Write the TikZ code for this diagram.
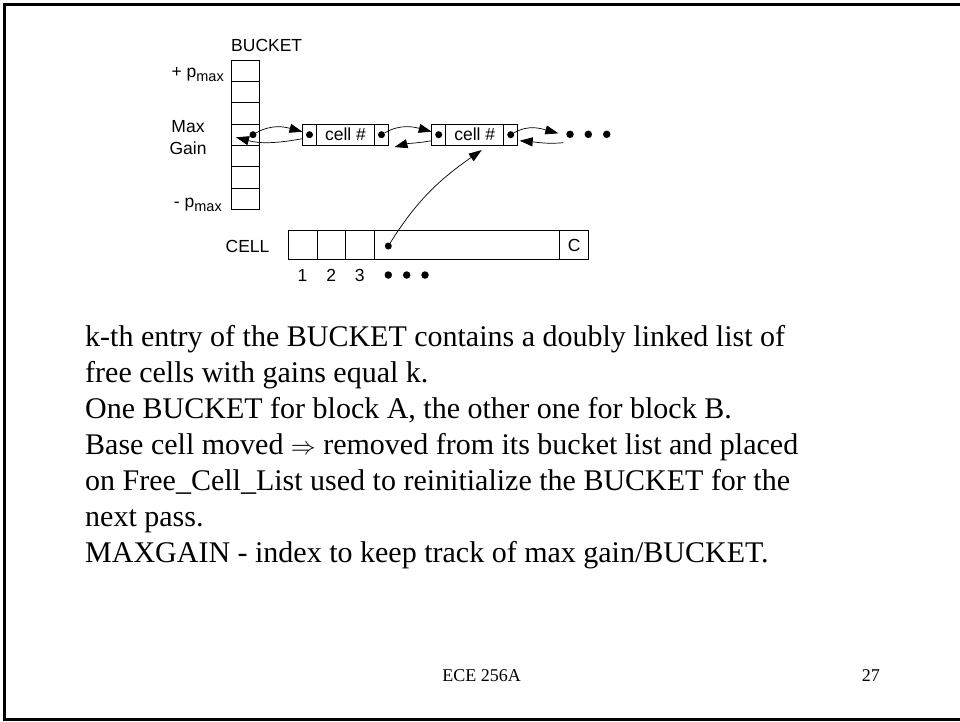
\documentclass[tikz,border=0pt]{standalone}
\usepackage{fontspec}
\setmainfont{Liberation Serif}
\newfontfamily\diagfont{Liberation Sans}
\usetikzlibrary{positioning,arrows.meta}

\tikzset{
  box/.style={draw, line width=0.8pt, inner sep=0pt, outer sep=0pt},
  ptrbox/.style={box, minimum width=14pt, minimum height=20.7pt},
  cellbox/.style={box, minimum width=58pt, minimum height=20.7pt, font=\diagfont\fontsize{17.5}{20}\selectfont},
  slot/.style={box, minimum width=28.6pt, minimum height=28.6pt, font=\diagfont\fontsize{17.5}{20}\selectfont},
  ptrdot/.style={circle, fill, inner sep=0pt, minimum size=7pt},
  moredot/.style={circle, fill, inner sep=0pt, minimum size=7.5pt},
  link/.style={-{Triangle[length=13pt,width=9pt]}, line width=0.7pt},
  lab/.style={font=\diagfont\fontsize{17.5}{22}\selectfont, inner sep=0pt},
  bodyline/.style={font=\fontsize{30}{36}\selectfont, anchor=base west, inner sep=0pt},
  foot/.style={font=\fontsize{18}{20}\selectfont, anchor=base, inner sep=0pt},
}
\newcommand{\pmaxlab}[1]{#1 p\raisebox{-4pt}{\fontsize{14.5}{14.5}\selectfont max}}

\begin{document}
\begin{tikzpicture}[x=1pt,y=1pt]
  \useasboundingbox (0,0) rectangle (960,-721);
  \fill[white] (0,0) rectangle (960,-721);
  % slide frame
  \draw[line width=3pt] (965,-4) -- (4.5,-4) -- (4.5,-719) -- (965,-719);

  % bucket array
  \foreach \i in {1,...,7}
    \node[box, minimum width=28.3pt, minimum height=21.33pt] (b\i) at (245.2,{-60-21.33*(\i-0.5)}) {};
  \node[lab, anchor=base west] (bucketlab) at (231,-51) {BUCKET};
  \node[lab, anchor=base east] (plus) at (224,-77) {\pmaxlab{+}};
  \node[lab, align=center] (maxgain) at (188,-138) {Max\\Gain};
  \node[lab, anchor=base east] (minus) at (222,-207) {\pmaxlab{-}};
  \node[ptrdot] (bd) at (253,-134.7) {};

  % free cell list
  \node[ptrbox] (c1l) at (309.5,-134.7) {};
  \node[cellbox, right=0pt of c1l] (c1m) {cell \#};
  \node[ptrbox, right=0pt of c1m] (c1r) {};
  \node[ptrbox] (c2l) at (438.7,-134.7) {};
  \node[cellbox, right=0pt of c2l] (c2m) {cell \#};
  \node[ptrbox, right=0pt of c2m] (c2r) {};
  \node[ptrdot] (d1l) at (c1l) {};
  \node[ptrdot] (d1r) at (c1r) {};
  \node[ptrdot] (d2l) at (c2l) {};
  \node[ptrdot] (d2r) at (c2r) {};
  \foreach \x [count=\k] in {570,588.3,606.7}
    \node[moredot] (e\k) at (\x,-134.3) {};
  \coordinate (fwdend) at (558.3,-133.3);
  \coordinate (backstart) at (563.3,-142.7);
  \coordinate (backtip) at (236,-137.3);

  \draw[link] (bd) to[out=30,in=165] ([yshift=3pt]c1l.west);
  \draw[link] (d1r) to[out=30,in=165] ([yshift=3pt]c2l.west);
  \draw[link] (d2r) to[out=30,in=165] (fwdend);
  \draw[link] ([yshift=-4pt]c1l.west) to[out=190,in=-15] (backtip);
  \draw[link] ([yshift=-6pt]c2l.west) to[out=190,in=15] ([shift={(6pt,-2pt)}]c1r.south east);
  \draw[link] (backstart) to[out=185,in=-5] ([shift={(2pt,-6pt)}]c2r.east);

  % cell array
  \node[slot] (k1) at (302.6,-245) {};
  \node[slot, right=0pt of k1] (k2) {};
  \node[slot, right=0pt of k2] (k3) {};
  \node[slot, right=0pt of k3, minimum width=185.7pt] (k4) {};
  \node[slot, right=0pt of k4] (kc) {C};
  \node[lab] (celllab) at (247.5,-246) {CELL};
  \node[lab, anchor=base] (n1) at (k1.center |- 0,-281) {1};
  \node[lab, anchor=base] (n2) at (k2.center |- 0,-281) {2};
  \node[lab, anchor=base] (n3) at (k3.center |- 0,-281) {3};
  \foreach \x [count=\k] in {388.3,406.7,425}
    \node[moredot] (f\k) at (\x,-275) {};
  \node[ptrdot] (kd) at (388.3,-246) {};
  \draw[link] (kd) to[out=58,in=215] ([shift={(7pt,-5pt)}]c2m.south);

  % slide text
  \node[bodyline] (l1) at (85,-346) {k-th entry of the BUCKET contains a doubly linked list of};
  \node[bodyline] (l2) at (85,-382) {free cells with gains equal k.};
  \node[bodyline] (l3) at (85,-418) {One BUCKET for block A, the other one for block B.};
  \node[bodyline] (l4) at (85,-454) {Base cell moved $\Rightarrow$ removed from its bucket list and placed};
  \node[bodyline] (l5) at (85,-490) {on Free\_Cell\_List used to reinitialize the BUCKET for the};
  \node[bodyline] (l6) at (85,-526) {next pass.};
  \node[bodyline] (l7) at (85,-562) {MAXGAIN - index to keep track of max gain/BUCKET.};
  \node[foot] (course) at (481.7,-681) {ECE 256A};
  \node[foot, anchor=base east] (page) at (880,-681) {27};
\end{tikzpicture}
\end{document}
